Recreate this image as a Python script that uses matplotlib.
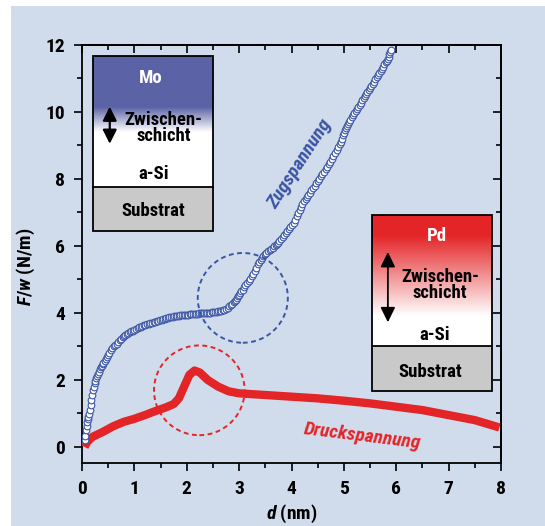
import numpy as np
import matplotlib
matplotlib.use("Agg")
import matplotlib.pyplot as plt
from matplotlib import font_manager
from matplotlib.patches import Rectangle, Ellipse, FancyArrowPatch
from matplotlib.ticker import MultipleLocator

# pick the narrowest installed family
names = {f.name for f in font_manager.fontManager.ttflist}
FAM = 'DejaVu Sans'
for cand in ['Liberation Sans Narrow', 'Roboto Condensed', 'Open Sans Condensed',
             'Noto Sans Condensed', 'DejaVu Sans Condensed', 'Roboto']:
    if cand in names:
        FAM = cand
        break
plt.rcParams['font.family'] = [FAM, 'DejaVu Sans']
plt.rcParams['font.weight'] = 'bold'
plt.rcParams['axes.labelweight'] = 'bold'
plt.rcParams['mathtext.fontset'] = 'custom'
plt.rcParams['mathtext.it'] = FAM + ':italic:bold'
plt.rcParams['mathtext.rm'] = FAM + ':bold'

# Mo film (tensile stress), open circles
mo_d = [0.05, 0.08, 0.10, 0.12, 0.15, 0.18, 0.21, 0.24, 0.27, 0.30, 0.34, 0.38,
        0.41, 0.45, 0.50, 0.55, 0.61, 0.66, 0.72, 0.78, 0.83, 0.88, 0.94, 1.00,
        1.06, 1.12, 1.18, 1.24, 1.30, 1.34, 1.40, 1.46, 1.52, 1.58, 1.64, 1.70,
        1.76, 1.82, 1.88, 1.94, 2.00, 2.06, 2.12, 2.18, 2.24, 2.30, 2.36, 2.42,
        2.48, 2.54, 2.60, 2.66, 2.72, 2.78, 2.84, 2.90, 2.94, 2.98, 3.02, 3.07,
        3.12, 3.18, 3.24, 3.30, 3.36, 3.41, 3.46, 3.52, 3.58, 3.64, 3.70, 3.74,
        3.80, 3.86, 3.92, 3.98, 4.04, 4.10, 4.16, 4.21, 4.27, 4.32, 4.38, 4.44,
        4.50, 4.56, 4.62, 4.68, 4.74, 4.80, 4.86, 4.92, 4.94, 4.98, 5.02, 5.06,
        5.10, 5.15, 5.20, 5.25, 5.30, 5.35, 5.40, 5.45, 5.50, 5.55, 5.60, 5.65,
        5.70, 5.75, 5.80, 5.84, 5.87, 5.90,
        # second sweep of the same measurement, read between the first
        0.06, 0.09, 0.11, 0.13, 0.165, 0.195, 0.225, 0.255, 0.285, 0.32, 0.36, 0.395,
        0.43, 0.475, 0.525, 0.58, 0.635, 0.69, 0.75, 0.805, 0.855, 0.91, 0.97, 1.03,
        1.09, 1.15, 1.21, 1.27, 1.37, 1.43, 1.49, 1.55, 1.61, 1.67, 1.73, 1.79,
        1.85, 1.91, 1.97, 2.03, 2.09, 2.15, 2.21, 2.27, 2.33, 2.39, 2.45, 2.51,
        2.57, 2.63, 2.69, 2.75, 2.81, 2.87, 2.92, 2.96, 3.00, 3.045, 3.095, 3.15,
        3.21, 3.27, 3.33, 3.385, 3.435, 3.49, 3.55, 3.61, 3.67, 3.72, 3.77, 3.83,
        3.89, 3.95, 4.01, 4.07, 4.13, 4.185, 4.24, 4.295, 4.35, 4.41, 4.47, 4.53,
        4.59, 4.65, 4.71, 4.77, 4.83, 4.89, 4.96, 5.00, 5.04, 5.08, 5.125, 5.175,
        5.225, 5.275, 5.325, 5.375, 5.425, 5.475, 5.525, 5.575, 5.625, 5.675, 5.725, 5.775,
        5.82, 5.855, 5.885]
mo_f = [0.22, 0.51, 0.75, 0.90, 1.11, 1.40, 1.71, 1.90, 2.05, 2.18, 2.32, 2.43,
        2.51, 2.63, 2.75, 2.88, 3.00, 3.08, 3.18, 3.27, 3.34, 3.40, 3.45, 3.50,
        3.55, 3.59, 3.63, 3.66, 3.69, 3.70, 3.74, 3.77, 3.80, 3.83, 3.86, 3.88,
        3.90, 3.92, 3.93, 3.94, 3.95, 3.96, 3.97, 3.98, 3.99, 4.00, 4.00, 4.01,
        4.02, 4.03, 4.05, 4.07, 4.10, 4.16, 4.24, 4.33, 4.40, 4.50, 4.60, 4.70,
        4.82, 4.95, 5.10, 5.25, 5.45, 5.59, 5.70, 5.80, 5.88, 5.95, 6.03, 6.09,
        6.20, 6.32, 6.44, 6.56, 6.70, 6.88, 7.06, 7.25, 7.40, 7.52, 7.66, 7.80,
        7.94, 8.08, 8.22, 8.36, 8.52, 8.68, 8.88, 9.05, 9.11, 9.30, 9.45, 9.58,
        9.70, 9.84, 9.96, 10.08, 10.22, 10.35, 10.48, 10.60, 10.72, 10.85, 10.97, 11.10,
        11.22, 11.35, 11.48, 11.58, 11.72, 11.86,
        0.33, 0.63, 0.82, 0.98, 1.25, 1.55, 1.80, 1.98, 2.12, 2.25, 2.38, 2.47,
        2.57, 2.69, 2.81, 2.94, 3.04, 3.13, 3.22, 3.30, 3.37, 3.42, 3.47, 3.52,
        3.57, 3.61, 3.64, 3.67, 3.72, 3.75, 3.79, 3.81, 3.84, 3.87, 3.89, 3.91,
        3.92, 3.93, 3.94, 3.95, 3.96, 3.97, 3.98, 3.99, 4.00, 4.00, 4.01, 4.02,
        4.04, 4.06, 4.08, 4.13, 4.20, 4.28, 4.36, 4.45, 4.55, 4.65, 4.76, 4.88,
        5.02, 5.17, 5.35, 5.52, 5.65, 5.75, 5.84, 5.91, 5.99, 6.06, 6.14, 6.26,
        6.38, 6.50, 6.63, 6.79, 6.97, 7.15, 7.33, 7.46, 7.59, 7.73, 7.87, 8.01,
        8.15, 8.29, 8.44, 8.60, 8.78, 8.96, 9.20, 9.38, 9.52, 9.64, 9.77, 9.90,
        10.02, 10.15, 10.28, 10.41, 10.54, 10.66, 10.78, 10.91, 11.03, 11.16, 11.28, 11.42,
        11.53, 11.65, 11.79]

# Pd film (compressive stress), thick line
pd_d = [0.05, 0.10, 0.20, 0.40, 0.60, 0.80, 1.00, 1.20, 1.40, 1.60, 1.75, 1.85,
        1.95, 2.05, 2.15, 2.25, 2.40, 2.60, 2.80, 3.00, 3.50, 4.00, 4.50, 5.00,
        5.50, 6.00, 6.50, 7.00, 7.50, 7.97]
pd_f = [0.00, 0.15, 0.30, 0.45, 0.62, 0.75, 0.84, 0.95, 1.07, 1.18, 1.28, 1.45,
        1.80, 2.15, 2.28, 2.22, 2.00, 1.80, 1.66, 1.60, 1.55, 1.50, 1.45, 1.38,
        1.30, 1.20, 1.10, 0.95, 0.80, 0.58]

BLUE = '#3b55a5'
RED = '#e42528'
PANEL = '#d0dcec'

fig = plt.figure(figsize=(5.45, 5.26), dpi=100)
fig.patches.append(Rectangle((11 / 545, 0), 1, 1 - 6 / 526, transform=fig.transFigure,
                             facecolor=PANEL, edgecolor='none', zorder=-10))
ax = fig.add_axes([82 / 545, 1 - 463 / 526, 419 / 545, 418 / 526])
ax.set_facecolor('none')

ax.plot(pd_d, pd_f, color=RED, lw=6, solid_capstyle='butt', zorder=3)
order = np.argsort(mo_d)
ax.plot(np.array(mo_d)[order], np.array(mo_f)[order], 'o', ms=4.8, mfc='white',
        mec=BLUE, mew=0.8, zorder=4)

# dashed circles
ax.add_patch(Ellipse((3.07, 4.45), 1.72, 2.68, fill=False, ec=BLUE, lw=1.4,
                     ls=(0, (2.5, 1.8)), zorder=5))
ax.add_patch(Ellipse((2.24, 1.69), 1.73, 2.68, fill=False, ec=RED, lw=1.4,
                     ls=(0, (2.5, 1.8)), zorder=5))

FS = 14
BS = 13.5

# inset Mo
mo_top, mo_mid, mo_bot = 11.66, 7.76, 6.44
x0, x1 = 0.21, 2.50
yy = np.linspace(mo_top, mo_mid, 200)
t = np.clip((10.15 - yy) / 0.75, 0, 1)[:, None]
c0 = np.array([91, 98, 166]) / 255
img = c0 * (1 - t[..., None]) + np.ones(3) * t[..., None]
ax.imshow(img, extent=(x0, x1, mo_mid, mo_top), aspect='auto', zorder=6)
ax.add_patch(Rectangle((x0, mo_bot), x1 - x0, mo_mid - mo_bot, fc='#c9c9c9', ec='none', zorder=6))
ax.add_patch(Rectangle((x0, mo_bot), x1 - x0, mo_top - mo_bot, fill=False, ec='black', lw=1.3, zorder=7))
ax.plot([x0, x1], [mo_mid, mo_mid], color='black', lw=1.3, zorder=7)
ax.text(1.32, 11.01, 'Mo', color='white', ha='center', va='center', fontsize=BS, zorder=8)
ax.text(1.56, 9.52, 'Zwischen-\nschicht', ha='center', va='center', fontsize=BS,
        linespacing=0.82, zorder=8)
ax.text(1.36, 8.16, 'a-Si', ha='center', va='center', fontsize=BS, zorder=8)
ax.text(1.36, 7.05, 'Substrat', ha='center', va='center', fontsize=BS, zorder=8)
ax.add_patch(FancyArrowPatch((0.53, 9.05), (0.53, 10.16), arrowstyle='<|-|>,head_length=4.2,head_width=2.1',
                             color='black', lw=1.6, mutation_scale=2, shrinkA=0, shrinkB=0, zorder=8))

# inset Pd
pd_top, pd_mid, pd_bot = 6.91, 3.00, 1.66
x0, x1 = 5.54, 7.83
yy = np.linspace(pd_top, pd_mid, 200)
t = np.clip((6.3 - yy) / 2.4, 0, 1)[:, None]
c1 = np.array([228, 37, 40]) / 255
img = c1 * (1 - t[..., None]) + np.ones(3) * t[..., None]
ax.imshow(img, extent=(x0, x1, pd_mid, pd_top), aspect='auto', zorder=6)
ax.add_patch(Rectangle((x0, pd_bot), x1 - x0, pd_mid - pd_bot, fc='#c9c9c9', ec='none', zorder=6))
ax.add_patch(Rectangle((x0, pd_bot), x1 - x0, pd_top - pd_bot, fill=False, ec='black', lw=1.3, zorder=7))
ax.plot([x0, x1], [pd_mid, pd_mid], color='black', lw=1.3, zorder=7)
ax.text(6.77, 6.29, 'Pd', color='white', ha='center', va='center', fontsize=BS, zorder=8)
ax.text(6.84, 4.83, 'Zwischen-\nschicht', ha='center', va='center', fontsize=BS,
        linespacing=0.82, zorder=8)
ax.text(6.74, 3.35, 'a-Si', ha='center', va='center', fontsize=BS, zorder=8)
ax.text(6.64, 2.25, 'Substrat', ha='center', va='center', fontsize=BS, zorder=8)
ax.add_patch(FancyArrowPatch((5.84, 3.72), (5.84, 5.82), arrowstyle='<|-|>,head_length=4.5,head_width=2.2',
                             color='black', lw=1.3, mutation_scale=2, shrinkA=0, shrinkB=0, zorder=8))

ax.text(4.15, 8.45, 'Zugspannung', color=BLUE, style='italic', fontsize=FS,
        rotation=57, ha='center', va='center', rotation_mode='anchor')
ax.text(5.36, 0.32, 'Druckspannung', color=RED, style='italic', fontsize=FS,
        rotation=-7, ha='center', va='center', rotation_mode='anchor')

ax.set_xlim(0, 8)
ax.set_ylim(-0.48, 12)
ax.xaxis.set_major_locator(MultipleLocator(1))
ax.xaxis.set_minor_locator(MultipleLocator(0.5))
ax.yaxis.set_major_locator(MultipleLocator(2))
ax.yaxis.set_minor_locator(MultipleLocator(1))
ax.tick_params(which='both', direction='out', width=1.2, labelsize=FS, pad=6)
ax.tick_params(which='major', length=6)
ax.tick_params(which='minor', length=3.5)
for s in ax.spines.values():
    s.set_linewidth(1.3)

sx = ax.secondary_xaxis('top')
sy = ax.secondary_yaxis('right')
sx.xaxis.set_major_locator(MultipleLocator(1))
sx.xaxis.set_minor_locator(MultipleLocator(0.5))
sy.yaxis.set_major_locator(MultipleLocator(2))
sy.yaxis.set_minor_locator(MultipleLocator(1))
for sec in (sx, sy):
    sec.tick_params(which='both', direction='in', width=1.2, labelleft=False,
                    labelright=False, labeltop=False, labelbottom=False)
    sec.tick_params(which='major', length=6)
    sec.tick_params(which='minor', length=3.5)
    for s in sec.spines.values():
        s.set_linewidth(1.3)

ax.set_xlabel(r'$d$ (nm)', fontsize=FS, fontweight='bold', labelpad=4)
ax.set_ylabel(r'$F/w$ (N/m)', fontsize=FS, fontweight='bold', labelpad=2)
ax.yaxis.set_label_coords(-45 / 419, 0.47)

fig.savefig('out.png', dpi=100)
